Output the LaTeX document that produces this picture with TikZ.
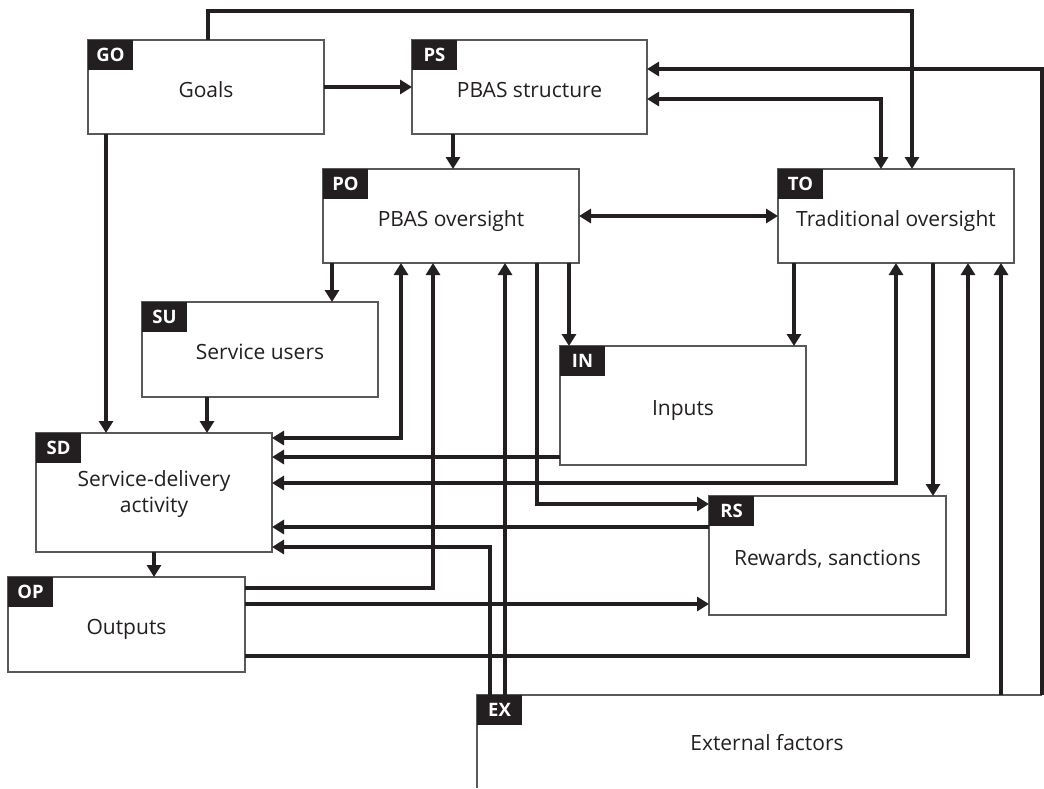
\documentclass[tikz,border=0pt]{standalone}
\usepackage{fontspec}
\setmainfont{Open Sans}
\usetikzlibrary{arrows.meta}
\definecolor{ink}{HTML}{231F20}
\definecolor{boxline}{HTML}{58595B}
\begin{document}
\begin{tikzpicture}[x=1pt,y=-1pt,
  box/.style={draw=boxline, line width=1.3pt, fill=white, inner sep=0pt,
    outer sep=0pt, anchor=north west},
  tagbox/.style={fill=ink, text=white, inner sep=0pt, outer sep=0pt,
    minimum width=45pt, minimum height=30pt, anchor=north west,
    font=\bfseries\fontsize{18.5}{18.5}\selectfont},
  lab/.style={inner sep=0pt, anchor=base, text=ink,
    font=\fontsize{21}{26}\selectfont},
  link/.style={draw=ink, line width=4.2pt,
    -{Triangle[length=12pt,width=14pt]}},
  dlink/.style={draw=ink, line width=4.2pt,
    {Triangle[length=12pt,width=14pt]}-{Triangle[length=12pt,width=14pt]}}]
\useasboundingbox (0,0) rectangle (1044,788);

% boxes
\node[box, minimum width=236pt, minimum height=94pt]  (GO) at (88,40)   {};
\node[box, minimum width=235pt, minimum height=94pt]  (PS) at (412,40)  {};
\node[box, minimum width=256pt, minimum height=94pt]  (PO) at (323,169) {};
\node[box, minimum width=236pt, minimum height=94pt]  (TO) at (778,169) {};
\node[box, minimum width=236pt, minimum height=95pt]  (SU) at (142,302) {};
\node[box, minimum width=246pt, minimum height=119pt] (IN) at (560,346) {};
\node[box, minimum width=236pt, minimum height=119pt] (SD) at (36,433)  {};
\node[box, minimum width=237pt, minimum height=119pt] (RS) at (709,496) {};
\node[box, minimum width=237pt, minimum height=95pt]  (OP) at (8,577)   {};
% external factors: open frame, only top and left sides
\node[inner sep=0pt, outer sep=0pt, anchor=north west,
      minimum width=565pt, minimum height=93pt] (EX) at (477,695) {};
\draw[draw=boxline, line width=1.3pt] (EX.north east) -- (EX.north west) -- (EX.south west);

% labels
\node[lab] (GOt) at ([yshift=-10pt]GO.center) {Goals};
\node[lab] (PSt) at ([yshift=-10pt]PS.center) {PBAS structure};
\node[lab] (POt) at ([yshift=-10pt]PO.center) {PBAS oversight};
\node[lab] (TOt) at ([yshift=-10pt]TO.center) {Traditional oversight};
\node[lab] (SUt) at ([yshift=-10pt]SU.center) {Service users};
\node[lab] (INt) at ([yshift=-10pt]IN.center) {Inputs};
\node[lab, anchor=center, align=center] (SDt) at ([yshift=-2pt]SD.center) {Service-delivery\\activity};
\node[lab] (RSt) at ([yshift=-10pt]RS.center) {Rewards, sanctions};
\node[lab] (OPt) at ([yshift=-10pt]OP.center) {Outputs};
\node[lab] (EXt) at (767,750) {External factors};

% tags
\node[tagbox] (GOg) at (GO.north west) {GO};
\node[tagbox] (PSg) at (PS.north west) {PS};
\node[tagbox] (POg) at (PO.north west) {PO};
\node[tagbox] (TOg) at (TO.north west) {TO};
\node[tagbox] (SUg) at (SU.north west) {SU};
\node[tagbox] (INg) at (IN.north west) {IN};
\node[tagbox] (SDg) at (SD.north west) {SD};
\node[tagbox] (RSg) at (RS.north west) {RS};
\node[tagbox] (OPg) at (OP.north west) {OP};
\node[tagbox] (EXg) at (EX.north west) {EX};

% connectors
\draw[link] (GO.east) -- (PS.west);
\draw[link] (GO.north -| 208,0) |- (912,11) -- (TO.north -| 912,0);
\draw[link] (GO.south -| 106,0) -- (SD.north -| 106,0);
\draw[link] (PS.south -| 453,0) -- (PO.north -| 453,0);
\draw[link] (EX.north east) -- (1042,69) -- (PS.east |- 0,69);
\draw[dlink] (PS.east |- 0,99) -| (TO.north -| 881,0);
\draw[dlink] (PO.east) -- (TO.west);
\draw[link] (PO.south -| 332,0) -- (SU.north -| 332,0);
\draw[dlink] (PO.south -| 401,0) |- (SD.east |- 0,438);
\draw[link] (OP.east |- 0,588) -| (PO.south -| 433,0);
\draw[link] (EX.north -| 505,0) -- (PO.south -| 505,0);
\draw[link] (PO.south -| 537,0) |- (RS.west |- 0,504);
\draw[link] (PO.south -| 569,0) -- (IN.north -| 569,0);
\draw[link] (TO.south -| 794,0) -- (IN.north -| 794,0);
\draw[link] (SU.south -| 207,0) -- (SD.north -| 207,0);
\draw[link] (IN.west |- 0,457) -- (SD.east |- 0,457);
\draw[dlink] (TO.south -| 896,0) |- (SD.east |- 0,483);
\draw[link] (TO.south -| 933,0) -- (RS.north -| 933,0);
\draw[link] (RS.west |- 0,527) -- (SD.east |- 0,527);
\draw[link] (EX.north -| 490,0) |- (SD.east |- 0,547);
\draw[link] (SD.south -| 154,0) -- (OP.north -| 154,0);
\draw[link] (OP.east |- 0,604) -- (RS.west |- 0,604);
\draw[link] (OP.east |- 0,656) -| (TO.south -| 968,0);
\draw[link] (EX.north -| 1001,0) -- (TO.south -| 1001,0);
\end{tikzpicture}
\end{document}
